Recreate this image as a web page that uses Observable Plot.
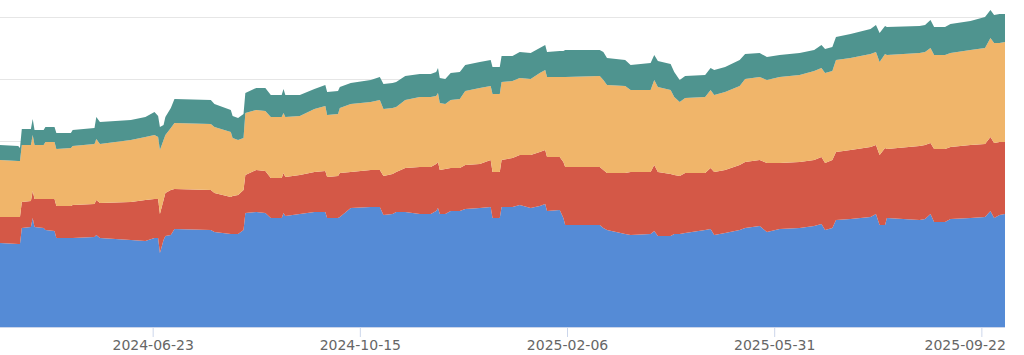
<!DOCTYPE html>
<html>
<head>
<meta charset="utf-8">
<script src="https://cdn.jsdelivr.net/npm/d3@7"></script>
<script src="https://cdn.jsdelivr.net/npm/@observablehq/plot@0.6"></script>
<style>
  html, body { margin: 0; padding: 0; background: #fff; }
  #chart svg { display: block; }
</style>
</head>
<body>
<div id="chart"></div>
<script>
const dates = [
"2024-03-31","2024-04-10","2024-04-11","2024-04-12","2024-04-17","2024-04-18","2024-04-19","2024-04-24","2024-04-25","2024-04-30",
"2024-05-01","2024-05-09","2024-05-10","2024-05-22","2024-05-23","2024-05-25","2024-06-11","2024-06-19","2024-06-24","2024-06-26",
"2024-06-27","2024-06-29","2024-06-30","2024-07-03","2024-07-05","2024-07-25","2024-07-27","2024-08-05","2024-08-06","2024-08-09",
"2024-08-12","2024-08-13","2024-08-19","2024-08-24","2024-08-27","2024-09-02","2024-09-03","2024-09-04","2024-09-12","2024-09-20",
"2024-09-26","2024-09-27","2024-10-03","2024-10-04","2024-10-10","2024-10-21","2024-10-26","2024-10-28","2024-11-02","2024-11-04",
"2024-11-09","2024-11-17","2024-11-23","2024-11-26","2024-11-27","2024-11-28","2024-12-01","2024-12-04","2024-12-09","2024-12-12",
"2024-12-20","2024-12-26","2024-12-27","2024-12-31","2025-01-01","2025-01-07","2025-01-11","2025-01-17","2025-01-22","2025-01-25",
"2025-01-26","2025-02-02","2025-02-04","2025-02-05","2025-02-24","2025-02-26","2025-02-28","2025-03-10","2025-03-13","2025-03-24",
"2025-03-26","2025-03-28","2025-04-04","2025-04-06","2025-04-09","2025-04-12","2025-04-23","2025-04-26","2025-04-28","2025-05-04",
"2025-05-12","2025-05-15","2025-05-23","2025-05-27","2025-06-03","2025-06-14","2025-06-22","2025-06-26","2025-06-28","2025-07-02",
"2025-07-04","2025-07-12","2025-07-23","2025-07-26","2025-07-28","2025-07-31","2025-08-01","2025-08-19","2025-08-22","2025-08-25",
"2025-08-27","2025-09-02","2025-09-05","2025-09-16","2025-09-24","2025-09-27","2025-09-29","2025-10-02","2025-10-05"
];

const seriesNames = ["Series 1", "Series 2", "Series 3", "Series 4"];
const seriesColors = ["#558bd6", "#d45847", "#f0b56a", "#4f948f"];

const series1 = [
84,83,83,99,100,109,100,99,97,96,
89,89,89,90,92,89,87,86,89,89,
74,87,91,92,98,97,95,93,93,93,
97,114,115,114,109,109,114,111,113,115,
115,109,109,110,119,120,120,112,113,115,
115,113,113,116,119,113,113,116,116,118,
119,120,109,109,120,120,122,119,121,123,
116,117,109,102,102,99,97,93,92,93,
96,91,91,93,93,94,97,98,92,94,
97,99,101,95,98,99,101,103,97,99,
107,108,110,113,102,102,109,107,108,113,
105,105,108,109,110,116,109,112,113
];
const series2 = [
26,27,27,26,26,27,28,29,31,32,
32,32,33,33,35,35,38,41,39,39,
39,40,43,45,40,40,39,37,38,39,
40,38,42,42,40,40,40,39,39,40,
41,41,42,44,36,37,37,39,40,40,
44,47,47,47,46,44,45,43,43,44,
44,47,46,46,47,49,50,53,54,54,
54,53,56,58,58,58,57,61,63,62,
66,64,62,59,58,60,57,61,63,63,
65,66,66,69,66,66,66,67,67,68,
68,69,70,69,70,77,69,74,74,71,
73,73,72,73,73,74,75,73,72
];
const series3 = [
57,56,56,57,56,56,54,54,57,57,
57,58,59,60,61,59,62,63,64,62,
64,60,58,62,66,66,66,65,58,55,
52,62,60,60,61,61,60,60,59,63,
65,62,62,65,68,68,70,67,66,65,
68,70,70,68,69,67,65,68,69,74,
76,74,78,78,78,77,77,76,79,80,
80,80,85,90,91,90,88,87,82,82,
85,85,84,78,74,75,76,78,77,78,
79,83,83,83,86,87,89,89,90,89,
92,92,93,93,93,94,94,93,93,95,
94,94,94,95,96,99,100,99,100
];
const series4 = [
15,15,13,16,16,16,15,15,15,15,
16,15,16,16,22,22,20,20,23,21,
23,15,18,20,24,24,23,22,22,22,
24,20,22,23,22,22,24,22,21,20,
21,23,23,21,21,22,23,25,25,25,
24,23,23,24,25,25,25,27,27,26,
26,26,27,27,26,25,26,26,25,25,
25,26,26,27,26,28,27,26,25,27,
25,26,26,25,22,22,22,22,25,25,
26,25,24,23,22,22,21,23,24,24,
23,24,25,27,29,28,28,27,27,28,
28,28,29,29,31,28,28,29,28
];

const tickDates = ["2024-06-23", "2024-10-15", "2025-02-06", "2025-05-31", "2025-09-22"];
const gridValues = [0, 62, 124, 186, 248, 310];

const allSeries = [series1, series2, series3, series4];
const data = [];
allSeries.forEach((vals, s) => {
  vals.forEach((v, i) => {
    data.push({date: new Date(dates[i]), series: seriesNames[s], value: v});
  });
});

const fmt = d3.utcFormat("%Y-%m-%d");
const ticks = tickDates.map(d => new Date(d));
const lastTick = ticks[ticks.length - 1];

const chart = Plot.plot({
  width: 1024,
  height: 355,
  marginLeft: 0,
  marginRight: 19,
  marginTop: 17,
  marginBottom: 28,
  style: {fontFamily: "'DejaVu Sans', sans-serif", fontSize: "14px", background: "#fff"},
  x: {type: "utc", domain: [new Date("2024-03-31"), new Date("2025-10-05")], label: null},
  y: {domain: [0, 310], axis: null},
  color: {domain: seriesNames, range: seriesColors},
  marks: [
    Plot.ruleY(gridValues.slice(1), {stroke: "#e6e6e6", strokeWidth: 1}),
    Plot.areaY(data, {x: "date", y: "value", fill: "series", curve: "linear"}),
    Plot.ruleY([0], {stroke: "#ccd6eb", strokeWidth: 1}),
    Plot.axisX(ticks, {
      tickSize: 10,
      tickPadding: 3,
      stroke: "#ccd6eb",
      fill: "#666666",
      fontSize: 14,
      tickFormat: d => (+d === +lastTick ? "" : fmt(d))
    }),
    Plot.text([lastTick], {
      x: d => d,
      text: d => fmt(d),
      frameAnchor: "bottom",
      lineAnchor: "top",
      textAnchor: "end",
      dy: 13,
      dx: 24,
      fill: "#666666",
      fontSize: 14
    })
  ]
});
document.getElementById("chart").appendChild(chart);
</script>
</body>
</html>
